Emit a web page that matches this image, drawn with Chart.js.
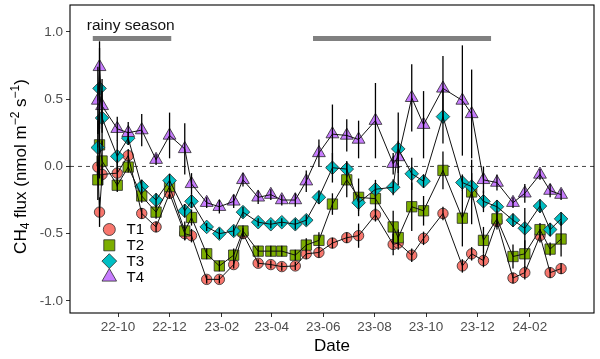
<!DOCTYPE html>
<html><head><meta charset="utf-8">
<script src="https://cdn.jsdelivr.net/npm/chart.js@4.4.1/dist/chart.umd.min.js"></script>
<style>html,body{margin:0;padding:0;background:#fff}#wrap{width:600px;height:359px}</style>
</head><body><div id="wrap"><canvas id="c" width="600" height="359"></canvas></div>
<script>
// ---------------- data ----------------
const dates = [
'2022-09-07','2022-09-09','2022-09-12','2022-09-30','2022-10-13','2022-10-29','2022-11-15','2022-12-01','2022-12-19','2022-12-27',
'2023-01-14','2023-01-29','2023-02-15','2023-02-26','2023-03-16','2023-03-31','2023-04-13','2023-04-29','2023-05-12','2023-05-27',
'2023-06-12','2023-06-29','2023-07-13','2023-08-02','2023-08-23','2023-08-29','2023-09-14','2023-09-28','2023-10-21','2023-11-13',
'2023-11-24','2023-12-08','2023-12-24','2024-01-12','2024-01-26','2024-02-13','2024-02-25','2024-03-09'];

const T1 = [-0.005,-0.34,-0.06,-0.05,0.08,-0.35,-0.45,-0.20,-0.50,-0.515,
-0.84,-0.84,-0.73,-0.50,-0.72,-0.73,-0.745,-0.74,-0.65,-0.64,
-0.57,-0.53,-0.515,-0.36,-0.58,-0.57,-0.66,-0.535,-0.35,-0.74,
-0.65,-0.70,-0.41,-0.83,-0.79,-0.515,-0.79,-0.76];
const T2 = [-0.10,0.16,0.04,-0.14,-0.005,-0.22,-0.34,-0.15,-0.48,-0.38,
-0.65,-0.74,-0.66,-0.48,-0.63,-0.63,-0.63,-0.66,-0.585,-0.55,
-0.28,-0.10,-0.23,-0.24,-0.45,-0.53,-0.30,-0.33,-0.03,-0.385,
-0.19,-0.55,-0.39,-0.67,-0.65,-0.47,-0.615,-0.54];
const T3 = [0.14,0.58,0.36,0.075,0.21,-0.15,-0.25,-0.105,-0.33,-0.26,
-0.45,-0.50,-0.48,-0.34,-0.415,-0.43,-0.415,-0.43,-0.40,-0.23,
-0.01,-0.02,-0.27,-0.17,-0.155,0.13,-0.055,-0.11,0.37,-0.12,
-0.15,-0.26,-0.30,-0.40,-0.46,-0.295,-0.47,-0.39];
const T4 = [0.49,0.74,0.45,0.28,0.25,0.27,0.05,0.23,0.13,-0.13,
-0.27,-0.30,-0.26,-0.10,-0.23,-0.21,-0.25,-0.25,-0.11,0.10,
0.24,0.23,0.20,0.34,0.02,0.07,0.51,0.31,0.58,0.49,
0.39,-0.10,-0.12,-0.27,-0.20,-0.06,-0.18,-0.21];

const T1_se = [0.08,0.11,0.08,0.10,0.05,0.04,0.04,0.04,0.05,0.05,
0.03,0.03,0.03,0.04,0.03,0.03,0.03,0.03,0.04,0.04,
0.04,0.04,0.09,0.05,0.08,0.05,0.05,0.05,0.05,0.05,
0.05,0.05,0.06,0.04,0.05,0.05,0.04,0.04];
const T2_se = [0.15,0.25,0.15,0.05,0.04,0.05,0.05,0.05,0.07,0.06,
0.04,0.04,0.05,0.04,0.04,0.04,0.04,0.04,0.05,0.06,
0.08,0.13,0.14,0.10,0.12,0.06,0.18,0.11,0.14,0.21,
0.24,0.10,0.06,0.09,0.10,0.05,0.05,0.13];
const T3_se = [0.20,0.30,0.20,0.12,0.05,0.05,0.05,0.05,0.05,0.05,
0.03,0.04,0.04,0.04,0.03,0.03,0.03,0.04,0.04,0.05,
0.11,0.06,0.06,0.07,0.06,0.27,0.12,0.05,0.20,0.06,
0.10,0.08,0.05,0.05,0.15,0.05,0.05,0.05];
const T4_se = [0.25,0.19,0.20,0.09,0.08,0.12,0.04,0.17,0.19,0.08,
0.04,0.05,0.05,0.05,0.05,0.04,0.04,0.05,0.08,0.10,
0.22,0.12,0.14,0.28,0.08,0.12,0.25,0.25,0.24,0.41,
0.33,0.10,0.06,0.04,0.07,0.04,0.05,0.04];

const seriesNames = ['T1','T2','T3','T4'];
const tickDates = ['2022-10-01','2022-12-01','2023-02-01','2023-04-01','2023-06-01','2023-08-01','2023-10-01','2023-12-01','2024-02-01'];
const tickLabels = ['22-10','22-12','23-02','23-04','23-06','23-08','23-10','23-12','24-02'];
const yTicks = [-1.0,-0.5,0.0,0.5,1.0];
const rainyStart = ['2022-09-01','2023-05-20'];
const rainyEnd = ['2022-12-03','2023-12-17'];
const rainyLevel = 0.95;
const rainyText = 'rainy season';
const rainyTextDate = '2022-10-16';
const rainyTextLevel = 1.045;

// ---------------- styling ----------------
const FONT = "'Liberation Sans', Arial, Helvetica, sans-serif";
const colors = ['#F8766D','#7CAE00','#00BFC4','#C77CFF'];
const shapes = ['circle','rect','rectRot','triangle'];
const radii = [5.2,7.3,6.8,7.4];
const legendRadii = [6,7.8,7.4,8.4];
const xMinDate = '2022-08-05', xMaxDate = '2024-04-17';
const yMin = -1.09, yMax = 1.2;

const ORIGIN = Date.UTC(2022,9,1);
function dayNum(s){const p=s.split('-').map(Number);return (Date.UTC(p[0],p[1]-1,p[2])-ORIGIN)/86400000;}

const values = [T1,T2,T3,T4];
const errs = [T1_se,T2_se,T3_se,T4_se];
const xs = dates.map(dayNum);

const datasets = [];
values.forEach((vals,i)=>{
  datasets.push({
    label: seriesNames[i]+' points',
    data: vals.map((v,j)=>({x:xs[j],y:v})),
    showLine:false,
    pointStyle: shapes[i],
    pointRadius: radii[i],
    pointBackgroundColor: colors[i],
    pointBorderColor: '#2a2a2a',
    pointBorderWidth: 0.8,
    order: 20 - i
  });
});
values.forEach((vals,i)=>{
  datasets.push({
    label: seriesNames[i]+' line',
    data: vals.map((v,j)=>({x:xs[j],y:v})),
    showLine:true,
    borderColor:'#111',
    borderWidth:1,
    pointRadius:0,
    fill:false,
    tension:0,
    order: 8 - i
  });
});

function drawShape(ctx, shape, x, y, r){
  ctx.beginPath();
  if(shape==='circle'){ctx.arc(x,y,r,0,Math.PI*2);}
  else if(shape==='rect'){const s=r*Math.SQRT1_2;ctx.rect(x-s,y-s,2*s,2*s);}
  else if(shape==='rectRot'){ctx.moveTo(x-r,y);ctx.lineTo(x,y-r);ctx.lineTo(x+r,y);ctx.lineTo(x,y+r);ctx.closePath();}
  else if(shape==='triangle'){
    ctx.moveTo(x,y-r);
    ctx.lineTo(x+r*Math.cos(Math.PI/6),y+r*0.5);
    ctx.lineTo(x-r*Math.cos(Math.PI/6),y+r*0.5);
    ctx.closePath();
  }
  ctx.fill();ctx.stroke();
}

const overlay = {
  id:'overlay',
  beforeDatasetsDraw(chart){
    const {ctx, chartArea:a, scales:{x,y}} = chart;
    ctx.save();
    const y0 = y.getPixelForValue(0);
    ctx.setLineDash([4,4]);
    ctx.strokeStyle='#333';ctx.lineWidth=0.9;
    ctx.beginPath();ctx.moveTo(a.left,y0);ctx.lineTo(a.right,y0);ctx.stroke();
    ctx.setLineDash([]);
    ctx.strokeStyle='#808080';ctx.lineWidth=5;ctx.lineCap='butt';
    const yr = y.getPixelForValue(rainyLevel);
    rainyStart.forEach((s,i)=>{
      ctx.beginPath();
      ctx.moveTo(x.getPixelForValue(dayNum(s)),yr);
      ctx.lineTo(x.getPixelForValue(dayNum(rainyEnd[i])),yr);
      ctx.stroke();
    });
    ctx.restore();
  },
  afterDatasetsDraw(chart){
    const {ctx, scales:{x,y}} = chart;
    ctx.save();
    ctx.strokeStyle='#000';ctx.lineWidth=1.3;
    values.forEach((vals,i)=>{
      vals.forEach((v,j)=>{
        const px = x.getPixelForValue(xs[j]);
        ctx.beginPath();
        ctx.moveTo(px,y.getPixelForValue(v+errs[i][j]));
        ctx.lineTo(px,y.getPixelForValue(v-errs[i][j]));
        ctx.stroke();
      });
    });
    ctx.restore();
  },
  afterDraw(chart){
    const {ctx, chartArea:a, scales:{x,y}} = chart;
    ctx.save();
    ctx.strokeStyle='#000';ctx.lineWidth=1.1;
    ctx.strokeRect(a.left,a.top,a.right-a.left,a.bottom-a.top);
    ctx.fillStyle='#111';ctx.font='15.5px '+FONT;ctx.textAlign='center';ctx.textBaseline='middle';
    ctx.fillText(rainyText,x.getPixelForValue(dayNum(rainyTextDate)),y.getPixelForValue(rainyTextLevel));
    const lx=109.3, ly0=229.5, dy=15.8;
    seriesNames.forEach((n,i)=>{
      const yy=ly0+i*dy;
      ctx.fillStyle=colors[i];ctx.strokeStyle='#2a2a2a';ctx.lineWidth=0.8;
      drawShape(ctx,shapes[i],lx,yy,legendRadii[i]);
      ctx.fillStyle='#000';ctx.font='15px '+FONT;ctx.textAlign='left';ctx.textBaseline='middle';
      ctx.fillText(n,126.5,yy+0.5);
    });
    const base=17, small=12;
    const parts=[['CH',base,0],['4',small,4.5],[' flux (nmol m',base,0],['\u22122',small,-6],[' s',base,0],['\u22121',small,-6],[')',base,0]];
    let total=0;
    parts.forEach(p=>{ctx.font=p[1]+'px '+FONT;total+=ctx.measureText(p[0]).width;});
    ctx.translate(21.5,166.5);ctx.rotate(-Math.PI/2);
    ctx.fillStyle='#000';ctx.textAlign='left';ctx.textBaseline='middle';
    let cx=-total/2;
    parts.forEach(p=>{ctx.font=p[1]+'px '+FONT;ctx.fillText(p[0],cx,p[2]);cx+=ctx.measureText(p[0]).width;});
    ctx.restore();
  }
};

Chart.defaults.font.family = FONT;
new Chart(document.getElementById('c'),{
  type:'scatter',
  data:{datasets},
  options:{
    responsive:false, animation:false, devicePixelRatio:1,
    layout:{autoPadding:false,padding:{left:0,right:6,top:5,bottom:0}},
    plugins:{legend:{display:false},tooltip:{enabled:false}},
    scales:{
      x:{type:'linear',min:dayNum(xMinDate),max:dayNum(xMaxDate),
        afterBuildTicks:s=>{s.ticks=tickDates.map(d=>({value:dayNum(d)}));},
        afterFit:s=>{s.height=46;s.paddingLeft=0;s.paddingRight=0;s.paddingTop=0;s.paddingBottom=0;},
        ticks:{autoSkip:false,maxRotation:0,color:'#4D4D4D',font:{size:13.5},padding:2,
          callback:(v)=>{const i=tickDates.findIndex(d=>Math.abs(dayNum(d)-v)<0.01);return i>=0?tickLabels[i]:'';}},
        grid:{display:true,drawOnChartArea:false,drawTicks:true,tickLength:4,color:'#333',lineWidth:1},
        border:{display:false},
        title:{display:true,text:'Date',color:'#000',font:{size:17},padding:{top:0,bottom:2}}
      },
      y:{type:'linear',min:yMin,max:yMax,
        afterBuildTicks:s=>{s.ticks=yTicks.map(v=>({value:v}));},
        afterFit:s=>{s.width=70;s.paddingLeft=0;s.paddingRight=0;s.paddingTop=0;s.paddingBottom=0;},
        ticks:{color:'#4D4D4D',font:{size:13.5,lineHeight:0.7},padding:3,callback:(v)=>Number(v).toFixed(1)},
        grid:{display:true,drawOnChartArea:false,drawTicks:true,tickLength:4,color:'#333',lineWidth:1},
        border:{display:false}
      }
    }
  },
  plugins:[overlay]
});
</script>
</body></html>
